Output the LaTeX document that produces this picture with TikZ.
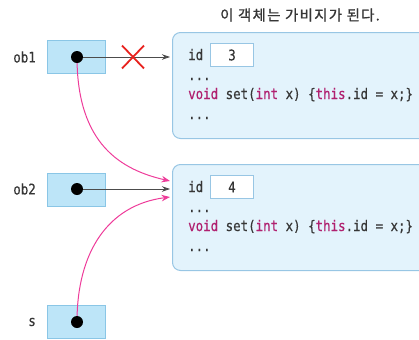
\documentclass[tikz,border=0pt]{standalone}
\usepackage{fontspec}
\newfontfamily\codefont[FakeStretch=0.85,FakeBold=0.4]{DejaVu Sans Mono}
\newfontfamily\krfont[LetterSpace=9,FakeBold=0.9]{Noto Sans CJK KR}
\usetikzlibrary{arrows.meta,shapes.misc}
\definecolor{varfill}{HTML}{BDE5F8}
\definecolor{varline}{HTML}{8AC6E6}
\definecolor{objfill}{HTML}{E3F3FC}
\definecolor{objline}{HTML}{98C6E4}
\definecolor{kwcol}{HTML}{B0206F}
\definecolor{txtcol}{HTML}{363636}
\definecolor{refcol}{HTML}{EE3C9A}
\definecolor{crosscol}{HTML}{E8221E}
\newcommand\kwd[1]{\textcolor{kwcol}{#1}}
\tikzset{
  varbox/.style={draw=varline, fill=varfill, line width=0.8bp, minimum width=58bp, minimum height=33bp, inner sep=0pt},
  objbox/.style={draw=objline, fill=objfill, line width=1bp, rounded corners=8bp, minimum width=262bp, minimum height=106bp, inner sep=0pt, anchor=north west},
  fieldbox/.style={draw=objline, fill=white, line width=0.8bp, minimum width=43bp, minimum height=23bp, inner sep=0pt, font=\codefont\fontsize{14.7}{16}\selectfont, text=txtcol},
  codeline/.style={anchor=base west, inner sep=0pt, font=\codefont\fontsize{14.7}{16}\selectfont, text=txtcol},
  varlabel/.style={anchor=east, inner sep=0pt, font=\codefont\fontsize{14.7}{16}\selectfont, text=txtcol},
  dotnode/.style={circle, fill=black, minimum size=12bp, inner sep=0pt},
  ptr/.style={draw=black!70, line width=0.8bp, -{Stealth[length=8bp,width=5.5bp]}, shorten >=2bp},
  refptr/.style={draw=refcol, line width=1bp, -{Stealth[length=8.5bp,width=6.5bp]}},
  crossmark/.style={cross out, draw=crosscol, line width=1.8bp, minimum width=20bp, minimum height=21bp, inner sep=0pt}
}
\begin{document}
\begin{tikzpicture}[x=1bp,y=-1bp]
\useasboundingbox (0,0) rectangle (419,340);
% title
\node[font=\krfont\fontsize{14.5}{16}\selectfont, text=txtcol, inner sep=0pt] (title) at (300,15) {이 객체는 가비지가 된다.};
% reference variables
\node[varbox] (ob1box) at (76,56.5) {};
\node[varbox] (ob2box) at (76,189.5) {};
\node[varbox] (sbox) at (76,322) {};
\node[varlabel] (ob1lab) at (36,57) {ob1};
\node[varlabel] (ob2lab) at (36,189) {ob2};
\node[varlabel] (slab) at (36,322) {s};
% objects
\node[objbox] (obj1) at (172,32) {};
\node[objbox] (obj2) at (172,164) {};
\node[codeline] (o1l1) at (188,60) {id};
\node[fieldbox] (field1) at (232,55) {3};
\node[codeline] (o1l2) at (188,80) {...};
\node[codeline] (o1l3) at (188,99) {\kwd{void} set(\kwd{int} x) \{\kwd{this}.id = x;\}};
\node[codeline] (o1l4) at (188,119) {...};
\node[codeline] (o2l1) at (188,192) {id};
\node[fieldbox] (field2) at (232,187) {4};
\node[codeline] (o2l2) at (188,212) {...};
\node[codeline] (o2l3) at (188,231) {\kwd{void} set(\kwd{int} x) \{\kwd{this}.id = x;\}};
\node[codeline] (o2l4) at (188,251) {...};
% connectors
\coordinate (p1) at (77,57);
\coordinate (p2) at (77,189);
\coordinate (p3) at (77,322);
\coordinate (t1) at (170,181);
\coordinate (t3) at (170,197);
\draw[refptr] (p1) .. controls (77,145) and (122,170) .. (t1);
\draw[refptr] (p3) .. controls (77,252) and (108,205) .. (t3);
\node[dotnode] (d1) at (p1) {};
\node[dotnode] (d2) at (p2) {};
\node[dotnode] (d3) at (p3) {};
\draw[ptr] (d1) -- (d1 -| obj1.west);
\draw[ptr] (d2) -- (d2 -| obj2.west);
\node[crossmark] (cross) at (133,57) {};
\end{tikzpicture}
\end{document}
